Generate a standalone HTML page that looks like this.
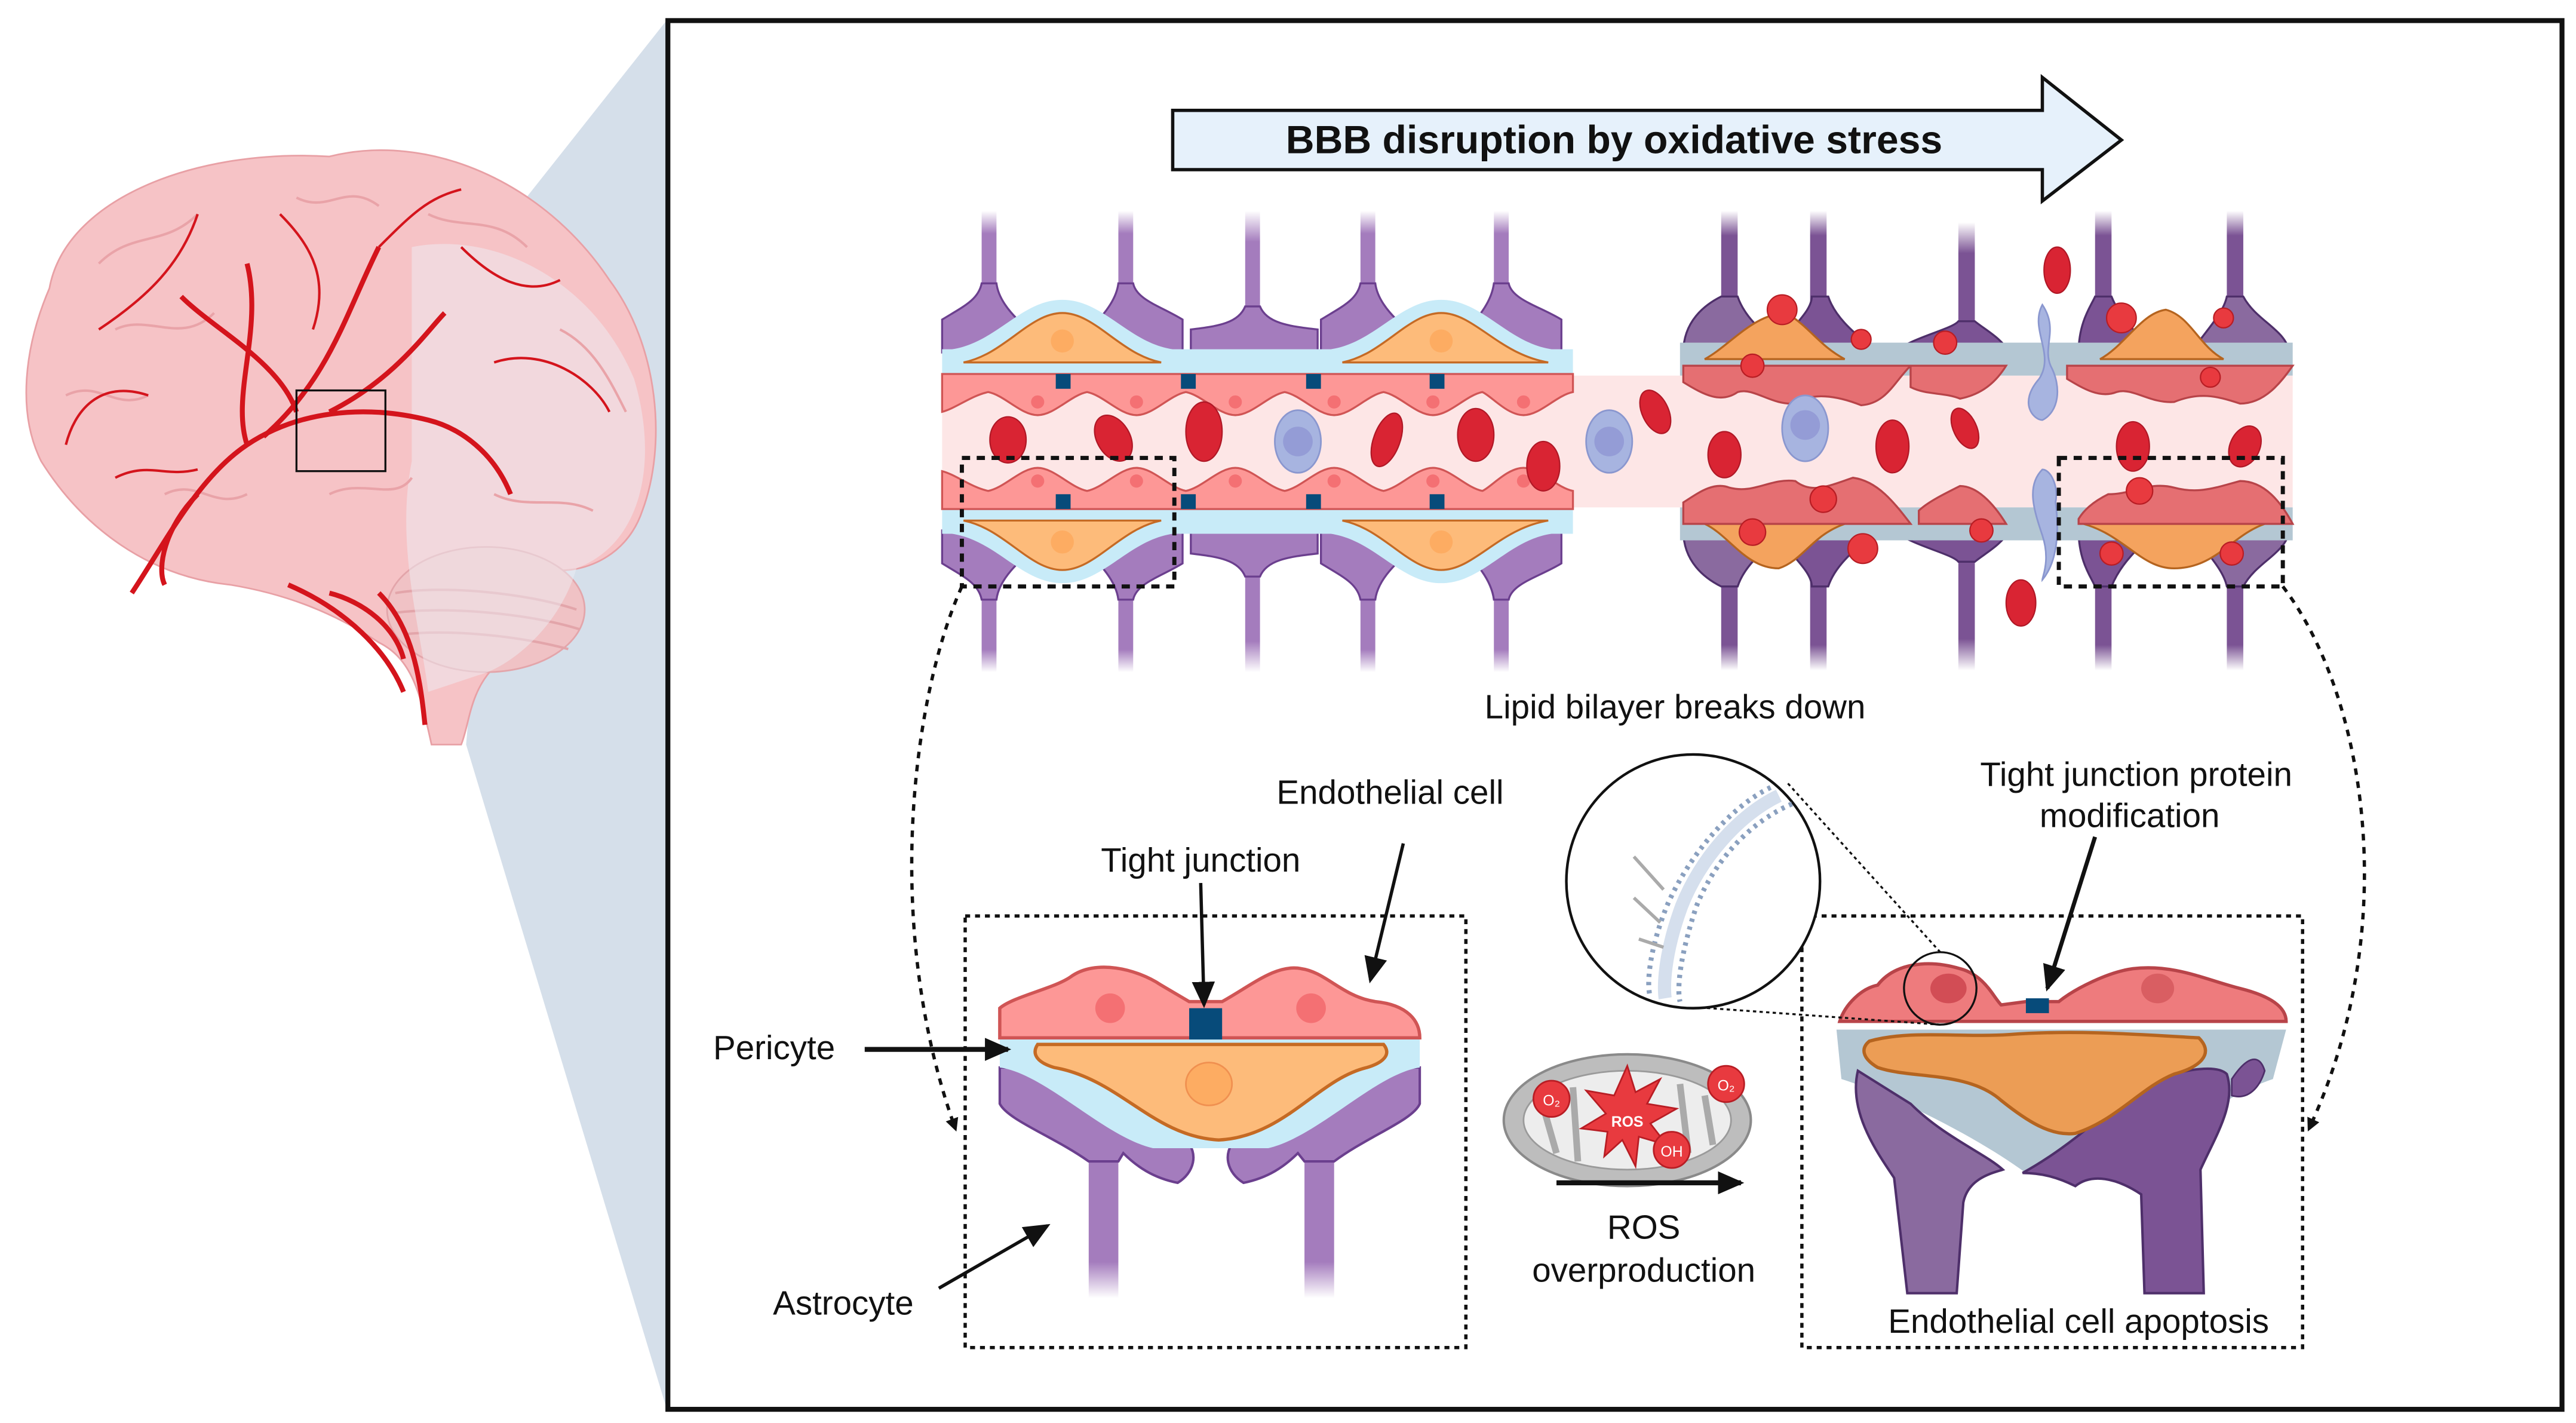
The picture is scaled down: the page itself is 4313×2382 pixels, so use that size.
<!DOCTYPE html>
<html><head><meta charset="utf-8"><style>
html,body{margin:0;padding:0;background:#fff}
svg{display:block}
text{font-family:"Liberation Sans",sans-serif;fill:#111}
</style></head><body>
<svg width="4313" height="2382" viewBox="0 0 1564 863.8" preserveAspectRatio="none" xmlns="http://www.w3.org/2000/svg">
<defs>
<marker id="ah" markerWidth="8" markerHeight="8" refX="6" refY="4" orient="auto" markerUnits="userSpaceOnUse"><path d="M0,0 L8,4 L0,8 Z" fill="#111"/></marker>
<marker id="ab" markerWidth="16" markerHeight="14" refX="14" refY="7" orient="auto" markerUnits="userSpaceOnUse"><path d="M0,0 L16,7 L0,14 Z" fill="#111"/></marker>
<linearGradient id="fadeD" x1="0" y1="0" x2="0" y2="1"><stop offset="0.75" stop-color="#a47cbd"/><stop offset="1" stop-color="#a47cbd" stop-opacity="0"/></linearGradient>
<linearGradient id="fadeU" x1="0" y1="1" x2="0" y2="0"><stop offset="0.75" stop-color="#a47cbd"/><stop offset="1" stop-color="#a47cbd" stop-opacity="0"/></linearGradient>
<linearGradient id="fadeDd" x1="0" y1="0" x2="0" y2="1"><stop offset="0.75" stop-color="#7b5394"/><stop offset="1" stop-color="#7b5394" stop-opacity="0"/></linearGradient>
<linearGradient id="fadeUd" x1="0" y1="1" x2="0" y2="0"><stop offset="0.75" stop-color="#7b5394"/><stop offset="1" stop-color="#7b5394" stop-opacity="0"/></linearGradient>
</defs>

<!-- wedge -->
<polygon points="310,132 405,12 405,856 283,452" fill="#d5dfea"/>

<!-- brain -->
<g>
<path d="M30,175 C40,120 120,90 200,95 C260,80 330,110 370,170 C400,210 405,270 390,310 C380,340 350,350 330,345 C350,375 330,400 300,405 C285,420 285,440 280,452 L262,452 C255,420 250,400 230,390 C200,370 170,360 140,355 C90,350 50,320 25,280 C10,250 15,210 30,175 Z" fill="#f6c3c6" stroke="#e8a0a5" stroke-width="1"/>
<ellipse cx="295" cy="370" rx="60" ry="38" fill="#f0c2c5" stroke="#e3a5aa"/>
<path d="M240,360 C270,355 320,360 350,370 M240,372 C270,368 320,372 352,382 M245,385 C275,382 315,386 345,394" fill="none" stroke="#e3a5aa" stroke-width="1.5"/>
<path d="M250,150 C300,140 360,170 385,230 C400,280 390,330 350,345 C340,380 310,405 290,410 L260,420 C255,380 240,330 250,280 Z" fill="#eeeef3" opacity="0.5"/>
<path d="M60,160 C80,140 100,150 120,130 M70,200 C90,190 110,210 130,190 M40,240 C60,230 70,250 90,240 M100,300 C120,290 130,310 150,300 M180,120 C200,130 210,110 230,125 M260,130 C280,140 300,130 320,150 M340,200 C360,210 370,230 380,250 M300,300 C320,310 340,300 360,310 M200,300 C220,290 240,305 250,290" fill="none" stroke="#e9a3a8" stroke-width="1.5"/>
<path d="M80,360 C100,330 120,290 150,270 C180,250 220,245 260,255 M150,270 C140,240 160,200 150,160 M160,265 C200,230 210,190 230,150 M200,250 C240,230 260,200 270,190 M180,250 C170,220 130,200 110,180 M260,255 C280,260 300,275 310,300 M230,360 C250,380 255,410 258,440 M120,300 C100,320 95,345 100,355 M200,360 C220,365 240,380 245,400 M175,355 C210,370 235,395 245,420" fill="none" stroke="#d4141c" stroke-width="3"/>
<path d="M60,200 C90,180 110,160 120,130 M90,240 C60,230 45,250 40,270 M300,220 C330,210 360,230 370,250 M280,150 C300,170 320,180 340,170 M170,130 C190,150 200,170 190,200 M230,150 C250,130 260,120 280,115 M70,290 C90,280 100,290 120,285" fill="none" stroke="#d4141c" stroke-width="1.5"/>
<rect x="180" y="237" width="54" height="49" fill="none" stroke="#111" stroke-width="1.2"/>
</g>

<!-- frame -->
<rect x="405.5" y="12.5" width="1150" height="843" fill="none" stroke="#111" stroke-width="3"/>

<!-- big arrow -->
<path d="M712,67 L1240,67 L1240,47 L1288,85 L1240,122 L1240,103 L712,103 Z" fill="#e6f1fb" stroke="#111" stroke-width="2"/>
<text x="980" y="93" font-size="24" font-weight="bold" text-anchor="middle">BBB disruption  by oxidative stress</text>

<!-- vessel lumen -->
<rect x="572" y="228" width="820" height="80" fill="#fde6e6"/>

<!-- healthy top group -->
<g id="ht">
<g fill="url(#fadeU)"><rect x="596" y="128" width="9" height="55"/><rect x="679" y="128" width="9" height="55"/><rect x="756" y="128" width="9" height="75"/><rect x="826" y="128" width="9" height="55"/><rect x="907" y="128" width="9" height="55"/></g>
<g fill="#a47cbd" stroke="#6b3f8e" stroke-width="1.2">
<path d="M572,214 L572,194 C585,186 594,182 596,172 L605,172 C607,188 625,200 640,214 Z"/>
<path d="M718,214 L718,194 C705,186 690,182 688,172 L679,172 C677,188 660,200 648,214 Z"/>
<path d="M723,214 L723,200 C740,198 752,196 756,186 L765,186 C769,196 782,198 800,200 L800,214 Z"/>
<path d="M802,214 L802,194 C815,186 824,182 826,172 L835,172 C837,188 855,200 870,214 Z"/>
<path d="M948,214 L948,194 C935,186 918,182 916,172 L907,172 C905,188 890,200 878,214 Z"/>
</g>
<path d="M572,212 L578,212 C605,208 620,182 645,182 C670,182 685,208 712,212 L808,212 C835,208 850,182 875,182 C900,182 915,208 942,212 L955,212 L955,228 L572,228 Z" fill="#c8ebf8"/>
<g fill="#fdbb7a" stroke="#c56a24" stroke-width="1.2">
<path d="M585,220 C610,215 625,190 645,190 C665,190 680,215 705,220 Z"/>
<path d="M815,220 C840,215 855,190 875,190 C895,190 910,215 940,220 Z"/>
</g>
<g fill="#fdac62"><ellipse cx="645" cy="207" rx="7" ry="7"/><ellipse cx="875" cy="207" rx="7" ry="7"/></g>
<path d="M572,227 L955,227 L955,238 C945,240 935,252 925,252 C915,252 905,240 900,238 C890,240 880,252 870,252 C860,252 850,240 840,238 C830,240 820,252 810,252 C800,252 790,240 780,238 C770,240 760,252 750,252 C740,252 730,240 720,238 C710,240 700,252 690,252 C680,252 670,240 660,238 C650,240 640,252 630,252 C620,252 610,240 600,238 C590,240 580,248 572,250Z" fill="#fd9796" stroke="#d05555" stroke-width="1.2"/>
<g fill="#f47073"><circle cx="630" cy="244" r="4"/><circle cx="690" cy="244" r="4"/><circle cx="750" cy="244" r="4"/><circle cx="810" cy="244" r="4"/><circle cx="870" cy="244" r="4"/><circle cx="925" cy="244" r="4"/></g>
<g fill="#074b7a"><rect x="641" y="227" width="9" height="9"/><rect x="717" y="227" width="9" height="9"/><rect x="793" y="227" width="9" height="9"/><rect x="868" y="227" width="9" height="9"/></g>
</g>
<use href="#ht" transform="translate(0,536) scale(1,-1)"/>

<!-- damaged section -->
<g fill="url(#fadeUd)"><rect x="1045" y="128" width="10" height="60"/><rect x="1099" y="128" width="10" height="60"/><rect x="1189" y="135" width="10" height="75"/><rect x="1272" y="128" width="10" height="60"/><rect x="1352" y="128" width="10" height="60"/></g>
<g fill="url(#fadeDd)"><rect x="1045" y="345" width="10" height="62"/><rect x="1099" y="345" width="10" height="62"/><rect x="1189" y="330" width="10" height="77"/><rect x="1272" y="345" width="10" height="62"/><rect x="1352" y="345" width="10" height="62"/></g>
<g fill="#8a6a9f" stroke="#4e2f6a" stroke-width="1.2">
<path d="M1022,214 C1022,195 1035,185 1045,180 L1055,180 C1060,195 1075,205 1085,214 Z"/>
<path d="M1078,214 C1085,200 1100,190 1100,180 L1110,180 C1115,195 1130,205 1140,214 Z" fill="#7b5394"/>
<path d="M1150,214 C1160,205 1185,200 1189,195 L1199,195 C1205,200 1215,205 1220,214 Z" fill="#7b5394"/>
<path d="M1262,214 C1262,195 1270,185 1272,180 L1282,180 C1288,195 1300,205 1310,214 Z" fill="#7b5394"/>
<path d="M1330,214 C1340,200 1350,190 1352,180 L1362,180 C1370,195 1388,200 1390,214 Z"/>
<path d="M1022,322 C1022,341 1035,351 1045,356 L1055,356 C1060,341 1075,331 1085,322 Z"/>
<path d="M1078,322 C1085,336 1100,346 1100,356 L1110,356 C1115,341 1130,331 1140,322 Z" fill="#7b5394"/>
<path d="M1150,322 C1160,331 1185,336 1189,341 L1199,341 C1205,336 1215,331 1220,322 Z" fill="#7b5394"/>
<path d="M1262,322 C1262,341 1270,351 1272,356 L1282,356 C1288,341 1300,331 1310,322 Z" fill="#7b5394"/>
<path d="M1330,322 C1340,336 1350,346 1352,356 L1362,356 C1370,341 1388,336 1390,322 Z"/>
</g>
<rect x="1020" y="208" width="372" height="20" fill="#b4c7d3"/>
<rect x="1020" y="308" width="372" height="20" fill="#b4c7d3"/>
<g fill="#f4a35e" stroke="#b5641f" stroke-width="1.2">
<path d="M1035,218 C1050,210 1065,190 1085,190 C1100,200 1105,210 1120,218 Z"/>
<path d="M1275,218 C1290,210 1300,190 1315,188 C1330,192 1335,210 1350,218 Z"/>
<path d="M1035,318 L1120,318 C1100,325 1095,340 1080,345 C1060,345 1050,325 1035,318 Z"/>
<path d="M1265,318 L1375,318 C1355,325 1345,345 1320,345 C1300,345 1290,325 1265,318 Z"/>
</g>
<g fill="#e56f72" stroke="#b84449" stroke-width="1.2">
<path d="M1022,222 L1160,222 C1150,232 1145,245 1130,246 C1115,240 1100,238 1090,245 C1075,246 1065,235 1055,238 C1045,245 1035,240 1022,232Z"/>
<path d="M1160,222 L1218,222 C1210,235 1200,240 1190,242 C1180,238 1170,240 1160,235Z"/>
<path d="M1255,222 L1392,222 C1385,232 1375,245 1360,245 C1345,240 1335,238 1320,244 C1305,245 1295,235 1285,238 C1275,242 1265,236 1255,230Z"/>
<path d="M1022,318 L1160,318 C1150,305 1140,292 1125,290 C1110,295 1100,300 1090,292 C1075,290 1065,300 1050,296 C1040,292 1030,300 1022,305Z"/>
<path d="M1165,318 L1218,318 C1210,305 1200,295 1190,295 C1180,300 1170,305 1165,310Z"/>
<path d="M1262,318 L1392,318 C1385,305 1375,292 1360,292 C1345,296 1335,300 1320,296 C1305,292 1295,300 1280,300 C1270,305 1265,310 1262,315Z"/>
</g>
<path d="M1240,185 C1232,200 1248,215 1238,230 C1225,245 1235,255 1240,255 C1250,250 1252,235 1245,222 C1240,210 1250,200 1240,185Z" fill="#a7b4e0" stroke="#8a97cf"/>
<path d="M1240,285 C1230,295 1235,310 1240,325 C1245,340 1240,350 1240,352 C1250,340 1250,320 1248,305 C1250,295 1245,285 1240,285Z" fill="#a7b4e0" stroke="#8a97cf"/>
<g fill="#e83a3f" stroke="#b81d24" stroke-width="0.8">
<circle cx="1082" cy="188" r="9"/><circle cx="1130" cy="206" r="6"/><circle cx="1064" cy="222" r="7"/><circle cx="1181" cy="208" r="7"/>
<circle cx="1288" cy="193" r="9"/><circle cx="1350" cy="193" r="6"/><circle cx="1342" cy="229" r="6"/><circle cx="1107" cy="303" r="8"/>
<circle cx="1064" cy="323" r="8"/><circle cx="1131" cy="333" r="9"/><circle cx="1203" cy="322" r="7"/><circle cx="1299" cy="298" r="8"/>
<circle cx="1282" cy="336" r="7"/><circle cx="1355" cy="336" r="7"/>
</g>

<!-- blood cells -->
<g fill="#d92433" stroke="#b01826" stroke-width="0.8">
<ellipse cx="612" cy="267" rx="11" ry="14"/><ellipse cx="676" cy="266" rx="10" ry="15" transform="rotate(-30 676 266)"/><ellipse cx="731" cy="262" rx="11" ry="18"/>
<ellipse cx="842" cy="267" rx="8" ry="17" transform="rotate(20 842 267)"/><ellipse cx="896" cy="264" rx="11" ry="16"/><ellipse cx="937" cy="283" rx="10" ry="15"/>
<ellipse cx="1005" cy="250" rx="8" ry="14" transform="rotate(-25 1005 250)"/><ellipse cx="1047" cy="276" rx="10" ry="14"/><ellipse cx="1149" cy="271" rx="10" ry="16"/>
<ellipse cx="1193" cy="260" rx="7" ry="13" transform="rotate(-25 1193 260)"/><ellipse cx="1249" cy="164" rx="8" ry="14"/><ellipse cx="1295" cy="271" rx="10" ry="15"/>
<ellipse cx="1363" cy="271" rx="9" ry="13" transform="rotate(25 1363 271)"/><ellipse cx="1227" cy="366" rx="9" ry="14"/>
</g>
<g fill="#a7b4e0" stroke="#8a97cf"><ellipse cx="788" cy="268" rx="14" ry="19"/><ellipse cx="977" cy="268" rx="14" ry="19"/><ellipse cx="1096" cy="260" rx="14" ry="20"/></g>
<g fill="#949cd6"><circle cx="788" cy="268" r="9"/><circle cx="977" cy="268" r="9"/><circle cx="1096" cy="258" r="9"/></g>

<!-- dashed boxes small -->
<rect x="584" y="278" width="129" height="78" fill="none" stroke="#111" stroke-width="2.5" stroke-dasharray="5,4"/>
<rect x="1250" y="278" width="136" height="78" fill="none" stroke="#111" stroke-width="2.5" stroke-dasharray="5,4"/>
<path d="M584,356 C555,420 535,560 580,685" fill="none" stroke="#111" stroke-width="2" stroke-dasharray="4,4" marker-end="url(#ah)"/>
<path d="M1386,356 C1435,420 1460,560 1402,685" fill="none" stroke="#111" stroke-width="2" stroke-dasharray="4,4" marker-end="url(#ah)"/>

<!-- big dashed boxes -->
<rect x="586" y="556" width="304" height="262" fill="none" stroke="#111" stroke-width="2" stroke-dasharray="3,3"/>
<rect x="1094" y="556" width="304" height="262" fill="none" stroke="#111" stroke-width="2" stroke-dasharray="3,3"/>

<!-- left detail -->
<rect x="661" y="700" width="18" height="88" fill="url(#fadeD)"/>
<rect x="792" y="700" width="18" height="88" fill="url(#fadeD)"/>
<path d="M607,648 L640,648 C665,665 695,690 720,692 C728,700 725,712 715,718 C700,715 690,708 682,700 L679,705 L661,705 C640,690 612,680 607,670 Z" fill="#a47cbd" stroke="#6b3f8e" stroke-width="1.5"/>
<path d="M862,648 L830,648 C805,665 775,690 750,692 C742,700 745,712 755,718 C770,715 780,708 788,700 L792,705 L810,705 C830,690 858,680 862,670 Z" fill="#a47cbd" stroke="#6b3f8e" stroke-width="1.5"/>
<path d="M607,628 L862,628 L862,648 C835,652 800,690 770,697 L700,697 C670,690 635,652 607,648 Z" fill="#c8ebf8"/>
<path d="M630,634 L840,634 C845,640 840,645 830,648 C800,655 780,690 740,692 C700,690 680,655 640,648 C630,645 626,640 630,634 Z" fill="#fdbb7a" stroke="#c56a24" stroke-width="2"/>
<ellipse cx="734" cy="658" rx="14" ry="13" fill="#fdac62" stroke="#f09050"/>
<path d="M607,630 L607,612 C615,605 640,600 650,593 C665,582 690,588 705,598 L722,608 L742,608 C760,598 775,585 790,588 C805,590 815,605 835,608 C855,610 862,620 862,630 Z" fill="#fd9796" stroke="#d05555" stroke-width="2"/>
<ellipse cx="674" cy="612" rx="9" ry="9" fill="#f47073"/><ellipse cx="796" cy="612" rx="9" ry="9" fill="#f47073"/>
<rect x="722" y="612" width="20" height="19" fill="#074b7a"/>

<!-- right detail -->
<path d="M1115,625 L1388,625 L1380,655 C1350,665 1320,690 1290,712 L1230,712 C1200,690 1150,665 1118,655 Z" fill="#b4c7d3"/>
<path d="M1128,650 C1122,675 1140,700 1150,715 L1158,785 L1188,785 L1192,730 C1195,715 1210,712 1216,710 C1205,700 1180,690 1160,670 Z" fill="#8a6a9f" stroke="#4e2f6a" stroke-width="1.5"/>
<path d="M1228,712 C1250,700 1275,680 1295,660 C1320,650 1345,645 1352,652 C1358,670 1345,690 1336,710 L1338,785 L1302,785 L1300,725 C1285,715 1270,712 1260,720 C1250,715 1240,712 1228,712 Z" fill="#7b5394" stroke="#4e2f6a" stroke-width="1.5"/>
<path d="M1355,655 C1365,640 1372,640 1375,650 C1372,660 1365,668 1355,665 Z" fill="#7b5394" stroke="#4e2f6a"/>
<path d="M1135,632 C1160,625 1190,630 1220,628 C1260,625 1300,628 1335,630 C1345,640 1335,648 1320,652 C1300,660 1285,680 1260,688 C1245,690 1230,680 1215,668 C1195,650 1160,655 1140,648 C1130,642 1130,636 1135,632 Z" fill="#ec9d55" stroke="#b5641f" stroke-width="2"/>
<path d="M1117,620 C1120,610 1130,600 1140,598 C1150,585 1170,582 1190,588 C1205,592 1210,605 1215,610 L1230,608 L1250,608 C1260,600 1280,590 1295,588 C1320,585 1340,595 1360,600 C1380,605 1388,612 1388,620 Z" fill="#ee7b7d" stroke="#b84449" stroke-width="2"/>
<ellipse cx="1183" cy="600" rx="11" ry="9" fill="#d24d55"/><ellipse cx="1310" cy="600" rx="10" ry="9" fill="#d95e62"/>
<rect x="1230" y="606" width="14" height="9" fill="#074b7a"/>
<circle cx="1178" cy="600" r="22" fill="none" stroke="#111" stroke-width="1.2"/>
<line x1="1178" y1="622" x2="1010" y2="610" stroke="#111" stroke-width="1.2" stroke-dasharray="2,2"/>
<line x1="1178" y1="578" x2="1085" y2="475" stroke="#111" stroke-width="1.2" stroke-dasharray="2,2"/>

<!-- lipid circle -->
<circle cx="1028" cy="535" r="77" fill="#fff" stroke="#111" stroke-width="1.6"/>
<path d="M1075,478 C1050,490 1025,520 1012,550 C1000,580 1000,600 1002,605" fill="none" stroke="#8aa0bf" stroke-width="3" stroke-dasharray="2,3"/>
<path d="M1088,488 C1060,500 1040,525 1030,550 C1020,580 1018,600 1020,608" fill="none" stroke="#8aa0bf" stroke-width="3" stroke-dasharray="2,3"/>
<path d="M1080,483 C1055,495 1032,522 1021,550 C1010,580 1010,600 1011,606" fill="none" stroke="#c3d2e6" stroke-width="8" opacity="0.7"/>
<path d="M992,520 L1010,540 M992,545 L1008,560 M995,570 L1010,575" stroke="#aaa" stroke-width="2"/>

<!-- mitochondrion -->
<ellipse cx="988" cy="680" rx="75" ry="40" fill="#bdbdbd" stroke="#8a8a8a" stroke-width="1.5"/>
<ellipse cx="988" cy="680" rx="63" ry="30" fill="#ededed" stroke="#9a9a9a"/>
<path d="M935,665 L945,700 M955,660 L958,705 M1020,658 L1025,700 M1035,665 L1040,695" stroke="#aaa" stroke-width="4"/>
<polygon points="988,647 993,663 1008,655 1000,670 1018,673 1002,682 1012,695 995,690 993,708 985,692 974,702 976,687 960,685 975,676 963,662 980,665" fill="#e83a3f" stroke="#b81d24"/>
<text x="988" y="684" font-size="9" text-anchor="middle" font-weight="bold" style="fill:#fff">ROS</text>
<circle cx="942" cy="667" r="11" fill="#e83a3f" stroke="#b81d24"/><text x="942" y="671" font-size="9" text-anchor="middle" style="fill:#fff">O₂</text>
<circle cx="1048" cy="658" r="11" fill="#e83a3f" stroke="#b81d24"/><text x="1048" y="662" font-size="9" text-anchor="middle" style="fill:#fff">O₂</text>
<circle cx="1015" cy="698" r="11" fill="#e83a3f" stroke="#b81d24"/><text x="1015" y="702" font-size="9" text-anchor="middle" style="fill:#fff">OH</text>
<line x1="945" y1="718" x2="1057" y2="718" stroke="#111" stroke-width="3" marker-end="url(#ab)"/>

<!-- label arrows -->
<line x1="729" y1="536" x2="731" y2="610" stroke="#111" stroke-width="2" marker-end="url(#ab)"/>
<line x1="852" y1="512" x2="832" y2="595" stroke="#111" stroke-width="2" marker-end="url(#ab)"/>
<line x1="525" y1="637" x2="612" y2="637" stroke="#111" stroke-width="3" marker-end="url(#ab)"/>
<line x1="570" y1="782" x2="636" y2="744" stroke="#111" stroke-width="2" marker-end="url(#ab)"/>
<line x1="1272" y1="508" x2="1243" y2="600" stroke="#111" stroke-width="2.5" marker-end="url(#ab)"/>

<!-- text -->
<g font-size="20.5" text-anchor="middle">
<text x="1017" y="436">Lipid bilayer breaks down</text>
<text x="844" y="488">Endothelial cell</text>
<text x="729" y="529">Tight junction</text>
<text x="1297" y="477">Tight junction protein</text>
<text x="1293" y="502">modification</text>
<text x="470" y="643">Pericyte</text>
<text x="512" y="798">Astrocyte</text>
<text x="998" y="752">ROS</text>
<text x="998" y="778">overproduction</text>
<text x="1262" y="809">Endothelial cell apoptosis</text>
</g>
</svg>
</body></html>
